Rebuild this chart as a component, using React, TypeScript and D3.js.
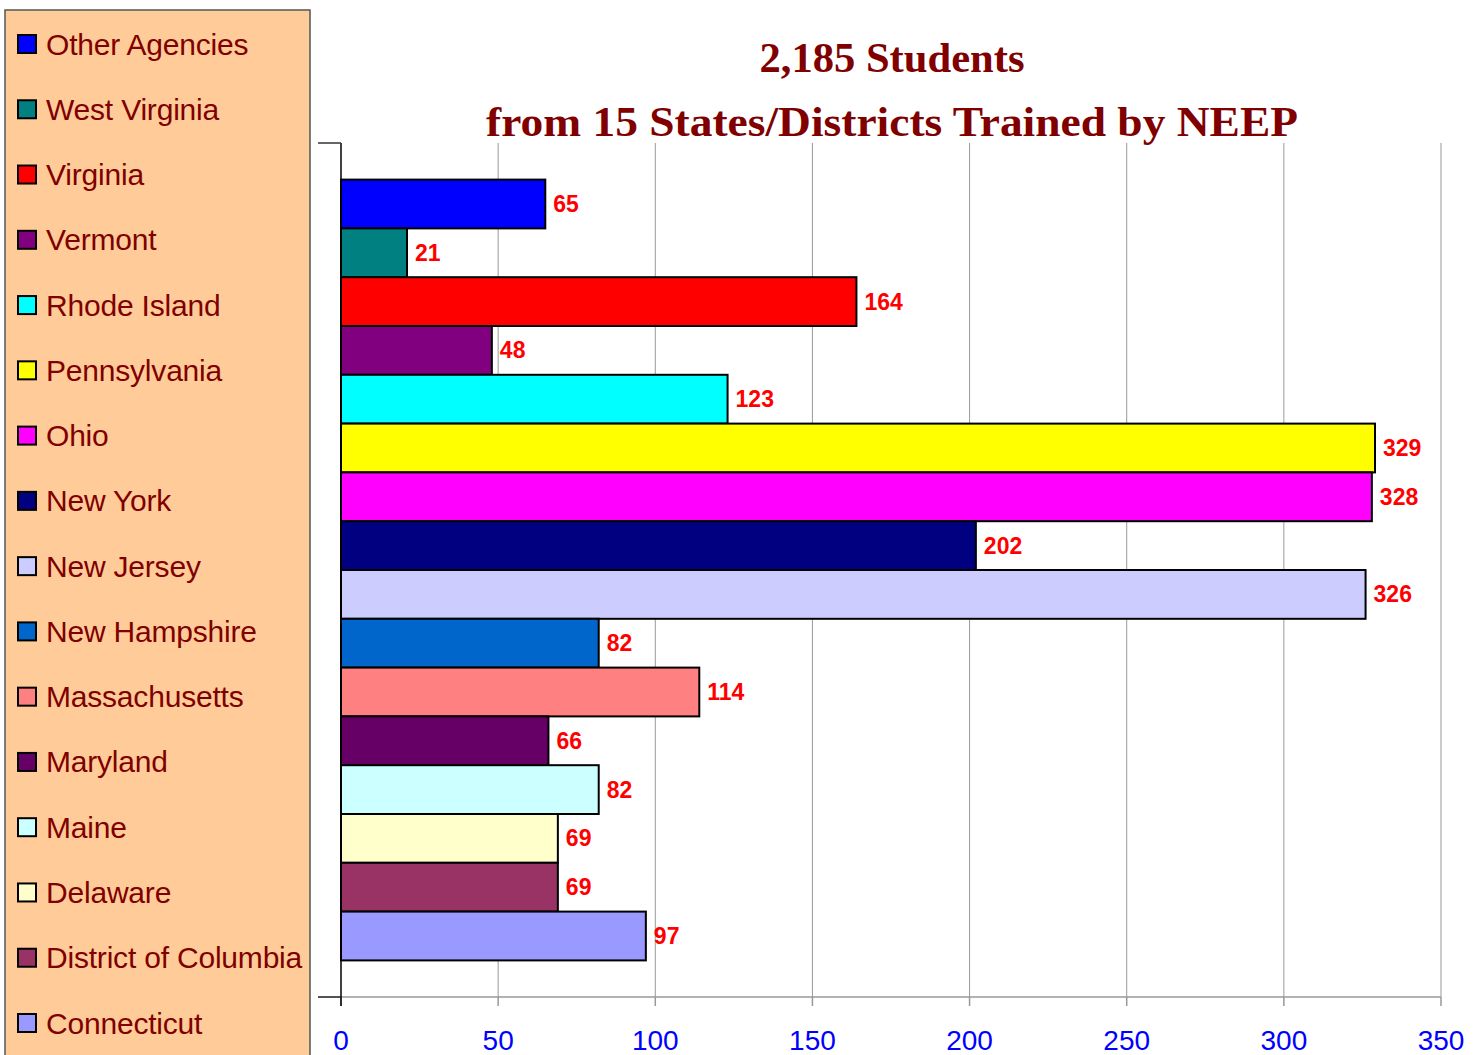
import React from 'react';
import * as d3 from 'd3';

const states = [
  'Other Agencies', 'West Virginia', 'Virginia', 'Vermont', 'Rhode Island', 'Pennsylvania',
  'Ohio', 'New York', 'New Jersey', 'New Hampshire', 'Massachusetts', 'Maryland',
  'Maine', 'Delaware', 'District of Columbia', 'Connecticut',
];
const students = [65, 21, 164, 48, 123, 329, 328, 202, 326, 82, 114, 66, 82, 69, 69, 97];
const colors = [
  '#0000FF', '#008080', '#FF0000', '#800080', '#00FFFF', '#FFFF00',
  '#FF00FF', '#000080', '#CCCCFF', '#0066CC', '#FF8080', '#660066',
  '#CCFFFF', '#FFFFCC', '#993366', '#9999FF',
];
const xTicks = [0, 50, 100, 150, 200, 250, 300, 350];
const titleLines = ['2,185 Students', 'from 15 States/Districts Trained by NEEP'];

export default function App() {
  const W = 1482, H = 1055;
  const plot = { left: 341, right: 1441, top: 143, bottom: 997 };

  const x = d3.scaleLinear().domain([0, 350]).range([plot.left, plot.right]);
  // one category, 16 clustered series, Excel gap width 150%
  const y = d3.scaleBand<string>().domain(states).range([plot.top, plot.bottom])
    .paddingInner(0).paddingOuter(0.75);

  const legendY = d3.scalePoint<string>().domain(states).range([44, 1023]);
  const font = 'Arial, "Liberation Sans", sans-serif';
  const serif = '"Liberation Serif", "DejaVu Serif", serif';

  return (
    <svg width={W} height={H} style={{ position: 'absolute', left: 0, top: 0, background: '#fff' }}>
      {/* legend */}
      <rect x={5} y={10} width={305} height={1060} fill="#FFCC99" stroke="#555" strokeWidth={1.5} />
      {states.map((s, i) => (
        <g key={s}>
          <rect x={18} y={legendY(s)! - 9} width={18} height={18} fill={colors[i]} stroke="#000" strokeWidth={2} />
          <text x={46} y={legendY(s)!} dy="0.35em" fontFamily={font} fontSize={30} fill="#800000"
            letterSpacing={-0.2}>{s}</text>
        </g>
      ))}

      {/* title */}
      <text x={892} y={72} textAnchor="middle" fontFamily={serif}
        fontWeight="bold" fontSize={42} fill="#800000" textLength={265} lengthAdjust="spacingAndGlyphs">{titleLines[0]}</text>
      <text x={892} y={136} textAnchor="middle" fontFamily={serif}
        fontWeight="bold" fontSize={42} fill="#800000" textLength={812} lengthAdjust="spacingAndGlyphs">{titleLines[1]}</text>

      {/* gridlines */}
      {xTicks.slice(1).map(t => (
        <line key={t} x1={x(t)} x2={x(t)} y1={plot.top} y2={plot.bottom} stroke="#999" strokeWidth={1} />
      ))}

      {/* x axis */}
      <line x1={318} x2={plot.right} y1={plot.bottom} y2={plot.bottom} stroke="#999" strokeWidth={1.5} />
      <line x1={318} x2={plot.left} y1={plot.bottom} y2={plot.bottom} stroke="#333" strokeWidth={1.5} />
      {xTicks.map(t => (
        <g key={t}>
          <line x1={x(t)} x2={x(t)} y1={plot.bottom} y2={plot.bottom + 9} stroke="#999" strokeWidth={1.5} />
          <text x={x(t)} y={1050} textAnchor="middle" fontFamily={font} fontSize={28} fill="#0000FF">{t}</text>
        </g>
      ))}

      {/* bars */}
      {states.map((s, i) => (
        <g key={s}>
          <rect x={x(0)} y={y(s)!} width={x(students[i]) - x(0)} height={y.bandwidth()}
            fill={colors[i]} stroke="#000" strokeWidth={2} />
          <text x={x(students[i]) + 8} y={y(s)! + y.bandwidth() / 2} dy="0.35em" fontFamily={font}
            fontWeight="bold" fontSize={23} fill="#FF0000">{students[i]}</text>
        </g>
      ))}

      {/* y axis */}
      <line x1={plot.left} x2={plot.left} y1={plot.top} y2={plot.bottom + 9} stroke="#000" strokeWidth={1.5} />
      <line x1={318} x2={plot.left} y1={plot.top} y2={plot.top} stroke="#333" strokeWidth={1.5} />
    </svg>
  );
}
